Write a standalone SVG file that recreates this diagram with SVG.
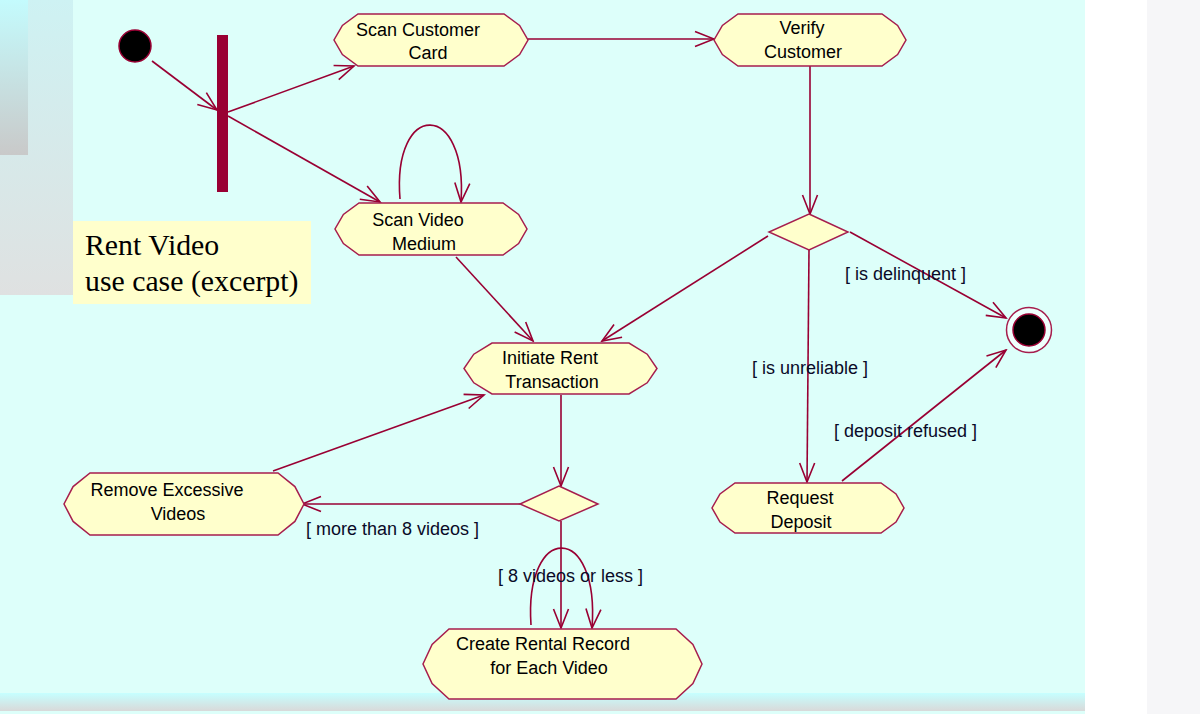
<svg xmlns="http://www.w3.org/2000/svg" width="1200" height="714" viewBox="0 0 1200 714">
  <defs>
    <linearGradient id="sideTall" x1="0" y1="0" x2="0" y2="1">
      <stop offset="0" stop-color="#cef2f3"/>
      <stop offset="1" stop-color="#dfe1e1"/>
    </linearGradient>
    <linearGradient id="sideShort" x1="0" y1="0" x2="0" y2="1">
      <stop offset="0" stop-color="#c4fbfd"/>
      <stop offset="1" stop-color="#c9c9c9"/>
    </linearGradient>
    <linearGradient id="bottomBand" x1="0" y1="0" x2="0" y2="1">
      <stop offset="0" stop-color="#c6ffff"/>
      <stop offset="1" stop-color="#d9d9d9"/>
    </linearGradient>
    <marker id="open" viewBox="-20 -10 22 20" refX="0" refY="0" markerWidth="22" markerHeight="20" markerUnits="userSpaceOnUse" orient="auto">
      <path d="M-19,-7.5 L0,0 L-19,7.5" fill="none" stroke="#990033" stroke-width="1.6"/>
    </marker>
    <style>
      .act { fill: #ffffcc; stroke: #a61e4d; stroke-width: 1.5; }
      .lbl { font-family: "Liberation Sans", Arial, sans-serif; font-size: 18px; fill: #000000; text-anchor: middle; }
      .guard { font-family: "Liberation Sans", Arial, sans-serif; font-size: 18px; fill: #0a0a28; }
      .edge { fill: none; stroke: #990033; stroke-width: 1.6; }
      .arrow { marker-end: url(#open); }
      .note { font-family: "Liberation Serif", "Times New Roman", serif; font-size: 29.8px; fill: #000000; }
    </style>
  </defs>

  <!-- page background -->
  <rect x="0" y="0" width="1200" height="714" fill="#ffffff"/>
  <rect x="1147" y="0" width="53" height="714" fill="#f6f6f8"/>
  <rect x="0" y="0" width="1085" height="714" fill="#ddfffa"/>
  <rect x="0" y="0" width="73" height="295" fill="url(#sideTall)"/>
  <rect x="0" y="0" width="28" height="155" fill="url(#sideShort)"/>
  <rect x="0" y="693" width="1085" height="18" fill="url(#bottomBand)"/>

  <!-- title note -->
  <g id="note">
    <rect x="73" y="221" width="238" height="83" fill="#ffffcc"/>
    <text class="note" x="85" y="255">Rent Video</text>
    <text class="note" x="85" y="291">use case (excerpt)</text>
  </g>

  <!-- connectors -->
  <g id="connectors">
    <path class="edge arrow" d="M152,61 L217,110"/>
    <path class="edge arrow" d="M228,112 L354,66"/>
    <path class="edge arrow" d="M228,116 L380,202"/>
    <path class="edge arrow" d="M528,39 L714,39"/>
    <path class="edge arrow" d="M810,66 L810,214"/>
    <path class="edge arrow" d="M400,199 C392,100 468,100 461,202"/>
    <path class="edge arrow" d="M456,257 L533,341"/>
    <path class="edge arrow" d="M768,236 L602,341"/>
    <path class="edge arrow" d="M809,250 L807,482"/>
    <path class="edge arrow" d="M850,232 L1006,318"/>
    <path class="edge arrow" d="M842,481 L1006,350"/>
    <path class="edge arrow" d="M561,395 L561,486"/>
    <path class="edge arrow" d="M520,504 L302,504"/>
    <path class="edge arrow" d="M561,521 L561,628"/>
    <path class="edge arrow" d="M531,625 C524,522 600,522 592,628"/>
    <path class="edge arrow" d="M273,471 L484,395"/>

    <text class="guard" x="845" y="280">[ is delinquent ]</text>
    <text class="guard" x="752" y="374">[ is unreliable ]</text>
    <text class="guard" x="834" y="437">[ deposit refused ]</text>
    <text class="guard" x="306" y="535">[ more than 8 videos ]</text>
    <text class="guard" x="498" y="582">[ 8 videos or less ]</text>
  </g>

  <!-- start / fork -->
  <g id="start">
    <circle cx="135" cy="46" r="16" fill="#000000" stroke="#990033" stroke-width="1.5"/>
  </g>
  <g id="fork">
    <rect x="217" y="35" width="11" height="157" fill="#990033"/>
  </g>

  <!-- activities -->
  <g id="scan-customer-card">
    <polygon class="act" points="358,14 504,14 519.6,25.4 528,40 519.6,54.6 504,66 358,66 342.4,54.6 334,40 342.4,25.4"/>
    <text class="lbl" x="418" y="36">Scan Customer</text>
    <text class="lbl" x="428" y="59">Card</text>
  </g>
  <g id="verify-customer">
    <polygon class="act" points="738,14 882,14 897.6,25.4 906,40 897.6,54.6 882,66 738,66 722.4,54.6 714,40 722.4,25.4"/>
    <text class="lbl" x="802" y="34">Verify</text>
    <text class="lbl" x="803" y="58">Customer</text>
  </g>
  <g id="scan-video-medium">
    <polygon class="act" points="359,203 503,203 518.6,214.4 527,229 518.6,243.6 503,255 359,255 343.4,243.6 335,229 343.4,214.4"/>
    <text class="lbl" x="418" y="226">Scan Video</text>
    <text class="lbl" x="424" y="250">Medium</text>
  </g>
  <g id="initiate-rent-transaction">
    <polygon class="act" points="492,343 629,343 647.2,354.2 657,368.5 647.2,382.8 629,394 492,394 473.8,382.8 464,368.5 473.8,354.2"/>
    <text class="lbl" x="550" y="364">Initiate Rent</text>
    <text class="lbl" x="552" y="388">Transaction</text>
  </g>
  <g id="remove-excessive-videos">
    <polygon class="act" points="90,473 278,473 294.9,486.6 304,504 294.9,521.4 278,535 90,535 73.1,521.4 64,504 73.1,486.6"/>
    <text class="lbl" x="167" y="496">Remove Excessive</text>
    <text class="lbl" x="178" y="520">Videos</text>
  </g>
  <g id="create-rental-record">
    <polygon class="act" points="449,629 676,629 692.9,644.4 702,664 692.9,683.6 676,699 449,699 432.1,683.6 423,664 432.1,644.4"/>
    <text class="lbl" x="543" y="650">Create Rental Record</text>
    <text class="lbl" x="549" y="674">for Each Video</text>
  </g>
  <g id="request-deposit">
    <polygon class="act" points="735,483 881,483 896,494 904,508 896,522 881,533 735,533 720,522 712,508 720,494"/>
    <text class="lbl" x="800" y="504">Request</text>
    <text class="lbl" x="801" y="528">Deposit</text>
  </g>

  <!-- decisions -->
  <g id="customer-check">
    <polygon class="act" points="809,214 848,232 809,250 769,232"/>
  </g>
  <g id="video-count-check">
    <polygon class="act" points="559,486 598,504 559,521 520,504"/>
  </g>

  <!-- end -->
  <g id="end">
    <circle cx="1029" cy="330" r="22.5" fill="#effffd" stroke="#a61e4d" stroke-width="1.5"/>
    <circle cx="1029" cy="330" r="16" fill="#000000" stroke="#990033" stroke-width="1.5"/>
  </g>
</svg>
